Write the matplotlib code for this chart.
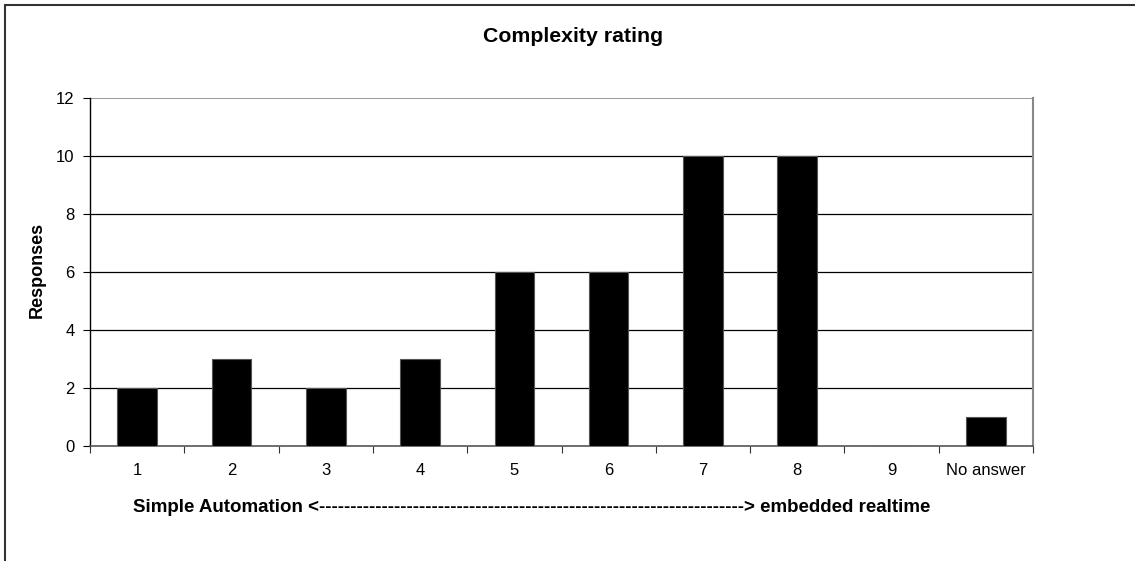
import matplotlib
matplotlib.use("Agg")
import matplotlib.pyplot as plt
from matplotlib.patches import Rectangle

categories = ["1", "2", "3", "4", "5", "6", "7", "8", "9", "No answer"]
responses = [2, 3, 2, 3, 6, 6, 10, 10, 0, 1]
y_ticks = [0, 2, 4, 6, 8, 10, 12]
title = "Complexity rating"
ylabel = "Responses"
xlabel = "Simple Automation <" + "-" * 68 + "> embedded realtime"

plt.rcParams['font.family'] = ['Liberation Sans', 'DejaVu Sans']

W, H = 1135, 561
fig = plt.figure(figsize=(W / 100, H / 100), dpi=100)
fig.patch.set_facecolor("white")
fig.patches.append(Rectangle((5 / W, -0.1), 1.2, 1 - 5 / H + 0.1, transform=fig.transFigure,
                             fill=False, edgecolor="#333333", linewidth=1.5))

left, right, top, bottom = 90, 1033, 98, 446
ax = fig.add_axes([left / W, 1 - bottom / H, (right - left) / W, (bottom - top) / H])

x = list(range(len(categories)))
ax.bar(x, responses, width=0.42, color="black", edgecolor="#555555", linewidth=0.8, zorder=3)
ax.set_xlim(-0.5, len(categories) - 0.5)
ax.set_ylim(0, 12)
ax.set_yticks(y_ticks)
ax.set_yticklabels([str(v) for v in y_ticks], fontsize=12)
for v in y_ticks[1:-1]:
    ax.axhline(v, color="black", linewidth=0.9, zorder=1)
ax.axhline(12, color="#888888", linewidth=1.2, zorder=1)

ax.set_xticks([i - 0.5 for i in range(len(categories) + 1)], minor=False)
ax.set_xticklabels([])
ax.set_xticks(x, minor=True)
ax.set_xticklabels(categories, minor=True, fontsize=12)
ax.tick_params(axis="x", which="minor", length=0, pad=12)
ax.tick_params(axis="x", which="major", direction="out", length=5, color="#333333")
ax.tick_params(axis="y", direction="out", length=5, pad=6)

ax.spines["left"].set_color("black")
ax.spines["left"].set_linewidth(1.0)
ax.spines["bottom"].set_color("#555555")
ax.spines["bottom"].set_linewidth(1.2)
ax.spines["right"].set_color("#888888")
ax.spines["right"].set_linewidth(1.5)
ax.spines["top"].set_visible(False)

fig.text(573 / W, 1 - 37 / H, title, ha="center", va="center", fontsize=15.3, fontweight="bold")
fig.text(37 / W, 1 - 270 / H, ylabel, ha="center", va="center", rotation=90, fontsize=13, fontweight="bold")
fig.text(133 / W, 1 - 507 / H, xlabel, ha="left", va="center", fontsize=13.5, fontweight="bold")

fig.savefig("out.png", dpi=100)
